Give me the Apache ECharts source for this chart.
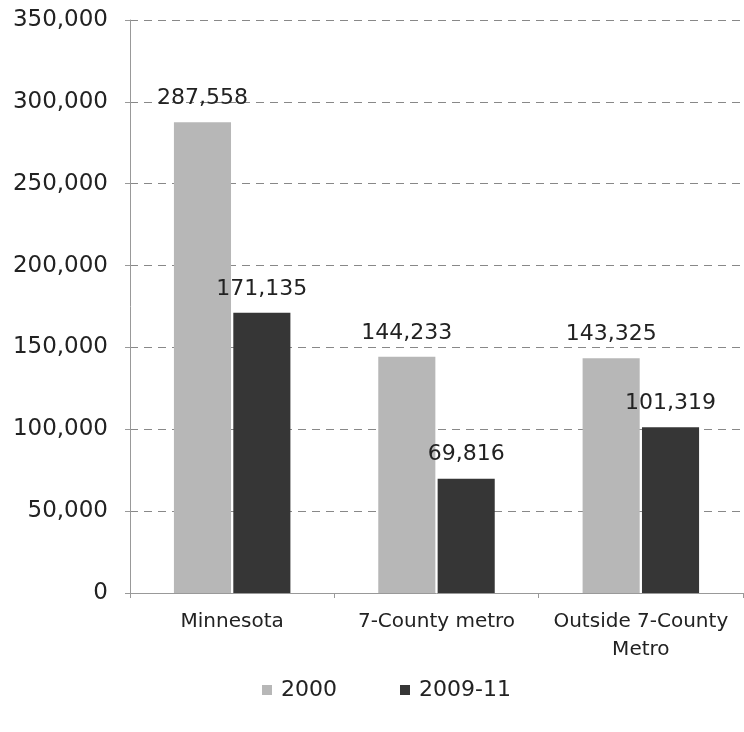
<!DOCTYPE html>
<html>
<head>
<meta charset="utf-8">
<script src="https://cdn.jsdelivr.net/npm/echarts@6/dist/echarts.min.js"></script>
<style>
  html, body { margin: 0; padding: 0; background: #fff; }
  #chart { width: 744px; height: 732px; }
</style>
</head>
<body>
<div id="chart"></div>
<script>
const categories = ['Minnesota', '7-County metro', 'Outside 7-County\nMetro'];
const seriesNames = ['2000', '2009-11'];
const values2000 = [287558, 144233, 143325];
const values2009 = [171135, 69816, 101319];
const yMin = 0, yMax = 350000, yStep = 50000;

const fontFamily = 'DejaVu Sans';
const textColor = '#222';

const chart = echarts.init(document.getElementById('chart'));

function barLabel() {
  return {
    show: true,
    position: 'top',
    distance: 13,
    color: textColor,
    fontFamily: fontFamily,
    fontSize: 22,
    formatter: p => p.value.toLocaleString('en-US')
  };
}

chart.setOption({
  animation: false,
  backgroundColor: '#fff',
  grid: { left: 130, right: 1, top: 20, bottom: 139, containLabel: false },
  legend: {
    bottom: 26,
    left: 257,
    itemWidth: 10,
    itemHeight: 10,
    itemGap: 63,
    icon: 'rect',
    textStyle: { color: textColor, fontFamily: fontFamily, fontSize: 22, padding: [0, 0, 0, 4] },
    data: seriesNames
  },
  xAxis: {
    type: 'category',
    data: categories,
    axisLine: { lineStyle: { color: '#999', width: 1 } },
    axisTick: { show: true, length: 5, lineStyle: { color: '#999' } },
    axisLabel: {
      interval: 0, color: textColor, fontFamily: fontFamily, fontSize: 20,
      margin: 15, lineHeight: 28
    }
  },
  yAxis: {
    type: 'value',
    min: yMin,
    max: yMax,
    interval: yStep,
    axisLine: { show: true, lineStyle: { color: '#999', width: 1 } },
    axisTick: { show: true, length: 5, lineStyle: { color: '#999' } },
    axisLabel: {
      color: textColor, fontFamily: fontFamily, fontSize: 23, margin: 22,
      formatter: v => v.toLocaleString('en-US')
    },
    splitLine: { show: true, lineStyle: { color: '#888', type: [8, 6], width: 1 } }
  },
  series: [
    {
      name: seriesNames[0],
      type: 'bar',
      data: values2000,
      barGap: '4%',
      barCategoryGap: '43%',
      itemStyle: { color: '#b7b7b7' },
      label: barLabel()
    },
    {
      name: seriesNames[1],
      type: 'bar',
      data: values2009,
      itemStyle: { color: '#363636' },
      label: barLabel()
    }
  ]
});
</script>
</body>
</html>
